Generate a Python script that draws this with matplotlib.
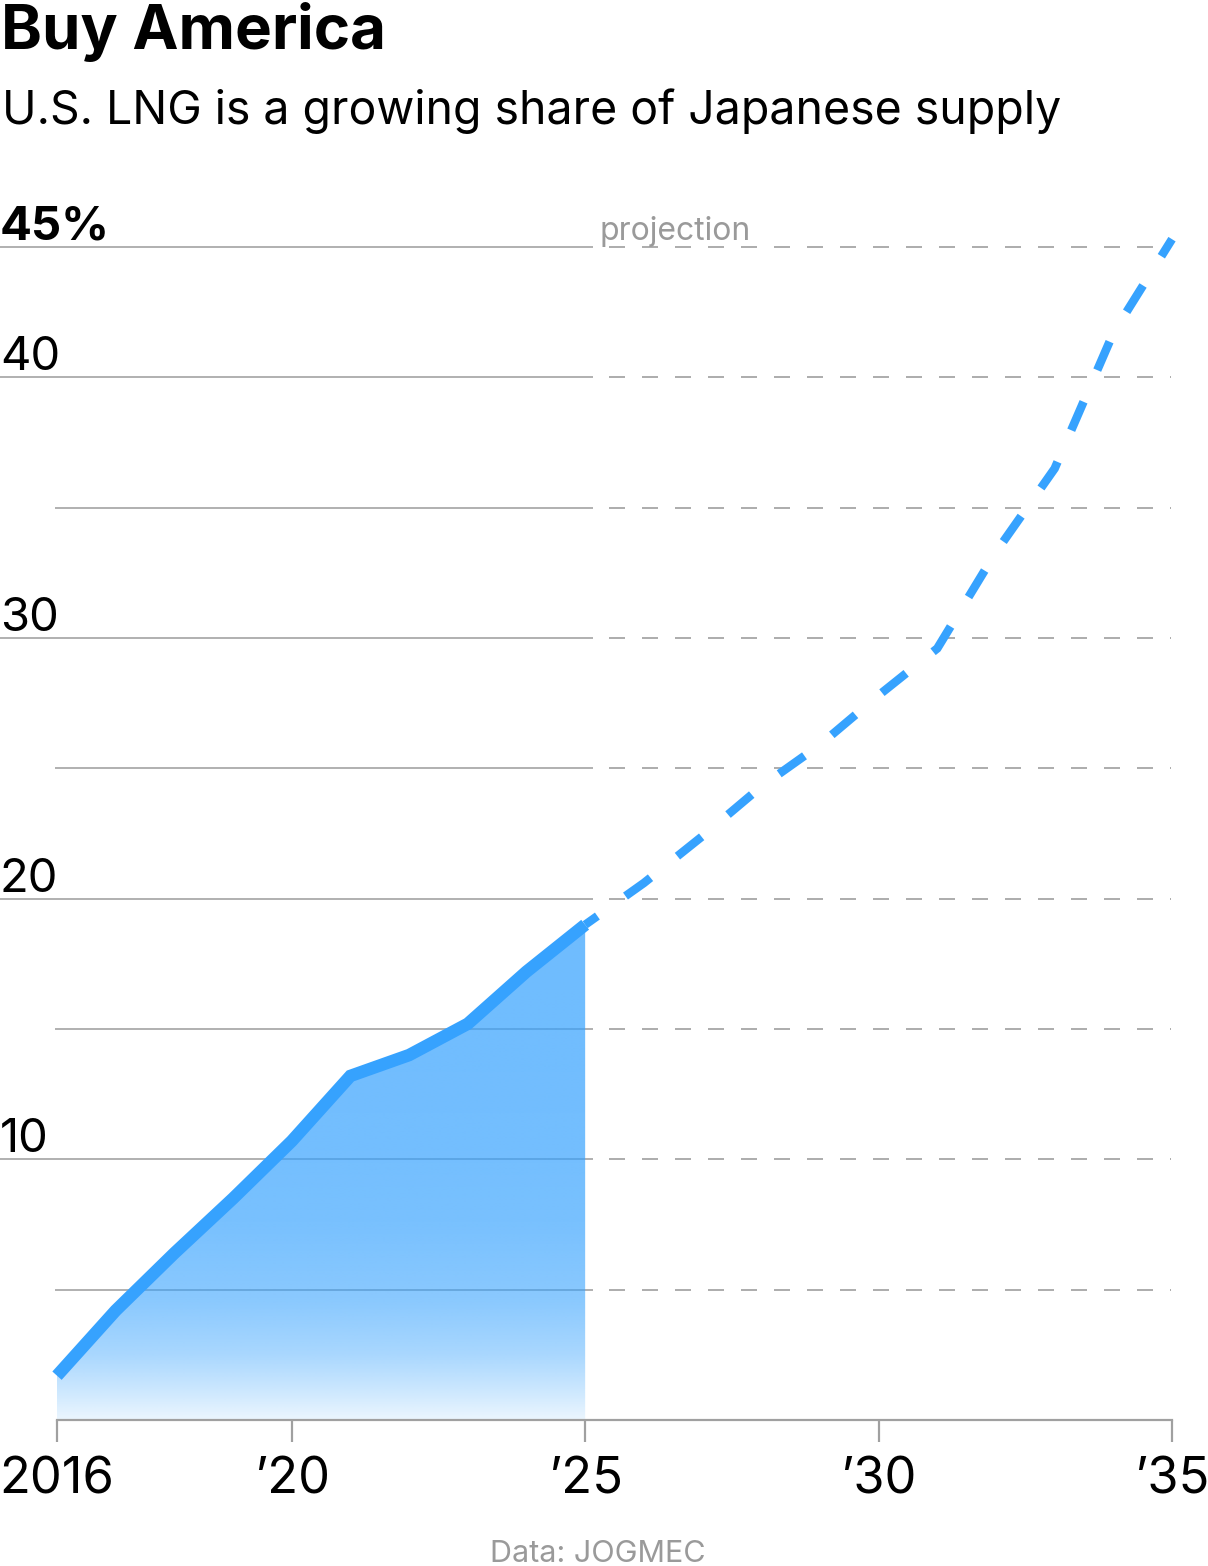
import matplotlib
matplotlib.use("Agg")
import matplotlib.pyplot as plt
import numpy as np
from matplotlib.patches import Polygon

# ---------------- data ----------------
years_hist = [2016, 2017, 2018, 2019, 2020, 2021, 2022, 2023, 2024, 2025]
share_hist = [1.7, 4.2, 6.4, 8.5, 10.7, 13.2, 14.0, 15.2, 17.2, 19.0]
years_proj = [2025, 2026, 2027, 2028, 2029, 2030, 2031, 2032, 2033, 2034, 2035]
share_proj = [19.0, 20.6, 22.4, 24.3, 25.9, 27.8, 29.6, 33.3, 36.5, 41.7, 45.3]
x_ticks = [2016, 2020, 2025, 2030, 2035]
x_tick_labels = ["2016", "\u201920", "\u201925", "\u201930", "\u201935"]
y_grid = [5, 10, 15, 20, 25, 30, 35, 40, 45]
y_label_vals = [10, 20, 30, 40, 45]
y_label_txt = ["10", "20", "30", "40", "45%"]

title = "Buy America"
subtitle = "U.S. LNG is a growing share of Japanese supply"
source = "Data: JOGMEC"
proj_label = "projection"

# ---------------- style ----------------
plt.rcParams["font.family"] = ["Inter", "DejaVu Sans"]
plt.rcParams["lines.scale_dashes"] = False

BLUE = "#36A2FE"
GRID = "#a0a0a0"
AXIS = "#a0a0a0"
GRAYTXT = "#9a9a9a"

W, H = 1208, 1566
fig = plt.figure(figsize=(W / 100, H / 100), dpi=100)
ax = fig.add_axes([0, 0, 1, 1])
ax.axis("off")

# pixel <-> data mapping helpers (layout only)
PX_YEAR = (1172 - 57) / 19.0
PX_UNIT = (1420 - 247) / 45.0


def xd(px):
    return 2016 + (px - 57) / PX_YEAR


def yd(py):
    return (1420 - py) / PX_UNIT


ax.set_xlim(xd(0), xd(W))
ax.set_ylim(yd(H), yd(0))

PT = 0.72  # points per pixel at 100 dpi

# ---------------- grid ----------------
for v in y_grid:
    x_start = xd(0) if v in y_label_vals else xd(55)
    ax.plot([x_start, xd(593)], [v, v], color=GRID, lw=1.6 * PT,
            solid_capstyle="butt", zorder=1)
    ax.plot([xd(609), xd(1171)], [v, v], color=GRID, lw=1.7 * PT,
            linestyle=(0, (16 * PT, 17 * PT)), dash_capstyle="butt", zorder=1)

# ---------------- axis ----------------
ax.plot([x_ticks[0], x_ticks[-1]], [0, 0], color=AXIS, lw=2.2 * PT,
        solid_capstyle="projecting", zorder=3)
for t, lab in zip(x_ticks, x_tick_labels):
    ax.plot([t, t], [0, -22 / PX_UNIT], color=AXIS, lw=2.2 * PT,
            solid_capstyle="butt", zorder=3)
    ax.text(t, yd(1494), lab, ha="center", va="baseline", fontsize=36.5,
            color="black")

# ---------------- gradient fill ----------------
top = max(share_hist)
vals = np.linspace(0, top, 400)
alpha = np.interp(vals, [0, 1.0, 2.5, 4.5, 7.5, 11, 19],
                  [0.10, 0.24, 0.43, 0.58, 0.67, 0.70, 0.72])
rgb = np.array(matplotlib.colors.to_rgb(BLUE))
img = np.zeros((len(vals), 1, 4))
img[:, 0, :3] = rgb
img[:, 0, 3] = alpha
poly_xy = [(years_hist[0], 0)] + list(zip(years_hist, share_hist)) + [(years_hist[-1], 0)]
clip = Polygon(poly_xy, closed=True, transform=ax.transData, facecolor="none",
               edgecolor="none")
ax.add_patch(clip)
im = ax.imshow(img, extent=[years_hist[0], years_hist[-1], 0, top],
               origin="lower", aspect="auto", interpolation="bilinear", zorder=2)
im.set_clip_path(clip)

# ---------------- lines ----------------
ax.plot(years_hist, share_hist, color=BLUE, lw=12.5 * PT,
        solid_capstyle="butt", solid_joinstyle="miter", zorder=5)
ax.plot(years_proj, share_proj, color=BLUE, lw=8.5 * PT,
        linestyle=(16 * PT, (31 * PT, 34.5 * PT)), dash_capstyle="butt",
        dash_joinstyle="miter", zorder=5)

# ---------------- labels ----------------
for v, lab in zip(y_label_vals, y_label_txt):
    ax.text(xd(0), v + 7 / PX_UNIT, lab, ha="left", va="baseline",
            fontsize=34, color="black",
            fontweight="bold" if lab.endswith("%") else "normal")

ax.text(xd(600), yd(240), proj_label, ha="left", va="baseline", fontsize=23,
        color=GRAYTXT)

fig.text(1 / W, 1 - 49 / H, title, ha="left", va="baseline", fontsize=44.5,
         fontweight="bold", color="black")
fig.text(2 / W, 1 - 124 / H, subtitle, ha="left", va="baseline", fontsize=33.4,
         color="black")
fig.text(598 / W, 1 - 1562 / H, source, ha="center", va="baseline",
         fontsize=22, color=GRAYTXT)

fig.savefig("out.png", dpi=100, facecolor="white")
